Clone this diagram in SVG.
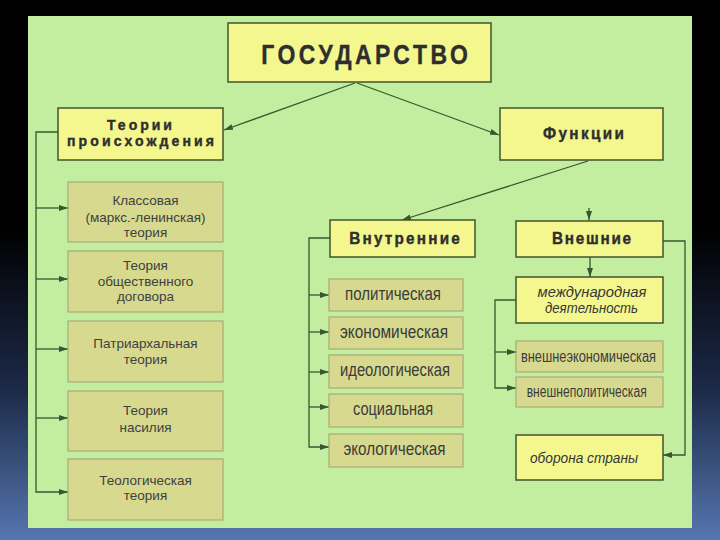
<svg xmlns="http://www.w3.org/2000/svg" width="720" height="540" viewBox="0 0 720 540">
<defs>
<linearGradient id="bg" x1="0" y1="0" x2="0" y2="1">
<stop offset="0" stop-color="#000000"/>
<stop offset="0.42" stop-color="#000000"/>
<stop offset="0.72" stop-color="#1c2a48"/>
<stop offset="1" stop-color="#5676b0"/>
</linearGradient>
<marker id="ah" markerUnits="userSpaceOnUse" markerWidth="9" markerHeight="6" refX="9" refY="3" orient="auto">
<path d="M0,0 L9,3 L0,6 Z" fill="#3a5530"/>
</marker>
<style>
.y{fill:#f3f78e;stroke:#44532c;stroke-width:1.5}
.o{fill:#d6d98e;stroke:#a9aa78;stroke-width:1.2}
.h{font-family:"Liberation Sans",Arial,sans-serif;font-weight:bold;fill:#2e2e2e;stroke:#2e2e2e;stroke-width:0.4}
.t{font-family:"Liberation Sans",Arial,sans-serif;font-size:13.5px;fill:#404040;text-anchor:middle}
.m{font-family:"Liberation Sans",Arial,sans-serif;font-size:18px;fill:#3c3c3c;text-anchor:middle}
.r{font-family:"Liberation Sans",Arial,sans-serif;font-size:16px;fill:#3c3c3c;text-anchor:middle}
.i{font-family:"Liberation Sans",Arial,sans-serif;font-size:15px;font-style:italic;fill:#363636;text-anchor:middle}
.c{fill:none;stroke:#3a5530;stroke-width:1.3}
</style>
</defs>
<rect x="0" y="0" width="720" height="540" fill="url(#bg)"/>
<rect x="28" y="16" width="664" height="512" fill="#c3eea0"/>

<g id="connectors">
<line class="c" x1="355" y1="83" x2="224" y2="130" marker-end="url(#ah)"/>
<line class="c" x1="357" y1="83" x2="499" y2="135" marker-end="url(#ah)"/>
<line class="c" x1="588" y1="161" x2="402" y2="220" marker-end="url(#ah)"/>
<line class="c" x1="589" y1="208" x2="589" y2="220" marker-end="url(#ah)"/>
<line class="c" x1="590" y1="257" x2="590" y2="277" marker-end="url(#ah)"/>
<polyline class="c" points="58,132 36,132 36,492 68,492" marker-end="url(#ah)"/>
<line class="c" x1="36" y1="208" x2="68" y2="208" marker-end="url(#ah)"/>
<line class="c" x1="36" y1="279" x2="68" y2="279" marker-end="url(#ah)"/>
<line class="c" x1="36" y1="349" x2="68" y2="349" marker-end="url(#ah)"/>
<line class="c" x1="36" y1="418" x2="68" y2="418" marker-end="url(#ah)"/>
<polyline class="c" points="330,238 309,238 309,447 329,447" marker-end="url(#ah)"/>
<line class="c" x1="309" y1="295" x2="329" y2="295" marker-end="url(#ah)"/>
<line class="c" x1="309" y1="332" x2="329" y2="332" marker-end="url(#ah)"/>
<line class="c" x1="309" y1="372" x2="329" y2="372" marker-end="url(#ah)"/>
<line class="c" x1="309" y1="407" x2="329" y2="407" marker-end="url(#ah)"/>
<polyline class="c" points="516,300 495,300 495,388 516,388" marker-end="url(#ah)"/>
<line class="c" x1="495" y1="352" x2="516" y2="352" marker-end="url(#ah)"/>
<polyline class="c" points="663,241 685,241 685,455 663,455" marker-end="url(#ah)"/>
</g>

<g id="gosudarstvo">
<rect class="y" x="228" y="23" width="263" height="59"/>
<text class="h" font-size="28" text-anchor="middle" transform="translate(364.5,64) scale(0.82,1)" textLength="252" lengthAdjust="spacing">ГОСУДАРСТВО</text>
</g>
<g id="teorii">
<rect class="y" x="58" y="108" width="165" height="52"/>
<text class="h" font-size="14.5" text-anchor="middle" transform="translate(139.5,129.5) scale(0.97,1)" textLength="67" lengthAdjust="spacing">Теории</text>
<text class="h" font-size="14.5" text-anchor="middle" transform="translate(140.5,146) scale(0.97,1)" textLength="151.5" lengthAdjust="spacing">происхождения</text>
</g>
<g id="funktsii">
<rect class="y" x="500" y="108" width="163" height="52"/>
<text class="h" font-size="17" text-anchor="middle" transform="translate(583.5,139) scale(0.9,1)" textLength="90" lengthAdjust="spacing">Функции</text>
</g>
<g id="vnutrennie">
<rect class="y" x="330" y="220" width="145" height="37"/>
<text class="h" font-size="17" text-anchor="middle" transform="translate(404.5,244) scale(0.9,1)" textLength="123" lengthAdjust="spacing">Внутренние</text>
</g>
<g id="vneshnie">
<rect class="y" x="516" y="221" width="147" height="36"/>
<text class="h" font-size="17" text-anchor="middle" transform="translate(591.5,244) scale(0.9,1)" textLength="88" lengthAdjust="spacing">Внешние</text>
</g>

<g id="klassovaya">
<rect class="o" x="68" y="182" width="155" height="60"/>
<text class="t" x="145.5" y="205">Классовая</text>
<text class="t" x="145.5" y="222">(маркс.-ленинская)</text>
<text class="t" x="145.5" y="237">теория</text>
</g>
<g id="dogovor">
<rect class="o" x="68" y="251" width="155" height="61"/>
<text class="t" x="145.5" y="270">Теория</text>
<text class="t" x="145.5" y="286">общественного</text>
<text class="t" x="145.5" y="301">договора</text>
</g>
<g id="patriarh">
<rect class="o" x="68" y="321" width="155" height="61"/>
<text class="t" x="145.5" y="348">Патриархальная</text>
<text class="t" x="145.5" y="364">теория</text>
</g>
<g id="nasilie">
<rect class="o" x="68" y="391" width="155" height="60"/>
<text class="t" x="145.5" y="415">Теория</text>
<text class="t" x="145.5" y="432">насилия</text>
</g>
<g id="teolog">
<rect class="o" x="68" y="459" width="155" height="61"/>
<text class="t" x="145.5" y="485">Теологическая</text>
<text class="t" x="145.5" y="500">теория</text>
</g>

<g id="polit">
<rect class="o" x="329" y="279" width="134" height="32"/>
<text class="m" x="393" y="300" textLength="96" lengthAdjust="spacingAndGlyphs">политическая</text>
</g>
<g id="ekonom">
<rect class="o" x="329" y="317" width="134" height="32"/>
<text class="m" x="394" y="338" textLength="108" lengthAdjust="spacingAndGlyphs">экономическая</text>
</g>
<g id="ideolog">
<rect class="o" x="329" y="355" width="134" height="33"/>
<text class="m" x="395" y="376" textLength="110" lengthAdjust="spacingAndGlyphs">идеологическая</text>
</g>
<g id="social">
<rect class="o" x="329" y="394" width="134" height="33"/>
<text class="m" x="393" y="415" textLength="80" lengthAdjust="spacingAndGlyphs">социальная</text>
</g>
<g id="ekolog">
<rect class="o" x="329" y="434" width="134" height="33"/>
<text class="m" x="394.5" y="455" textLength="102" lengthAdjust="spacingAndGlyphs">экологическая</text>
</g>

<g id="mezhdunar">
<rect class="y" x="516" y="277" width="147" height="46"/>
<text class="i" x="592" y="296.5" textLength="109" lengthAdjust="spacingAndGlyphs">международная</text>
<text class="i" x="591.5" y="312.5" textLength="93" lengthAdjust="spacingAndGlyphs">деятельность</text>
</g>
<g id="vneshekonom">
<rect class="o" x="516" y="341" width="147" height="31"/>
<text class="r" x="588.5" y="361.5" textLength="135" lengthAdjust="spacingAndGlyphs">внешнеэкономическая</text>
</g>
<g id="vneshpolit">
<rect class="o" x="516" y="377" width="147" height="30"/>
<text class="r" x="586.7" y="397" textLength="120" lengthAdjust="spacingAndGlyphs">внешнеполитическая</text>
</g>
<g id="oborona">
<rect class="y" x="516" y="435" width="147" height="45"/>
<text class="i" x="584" y="463" font-size="16" textLength="108" lengthAdjust="spacingAndGlyphs">оборона  страны</text>
</g>
</svg>
